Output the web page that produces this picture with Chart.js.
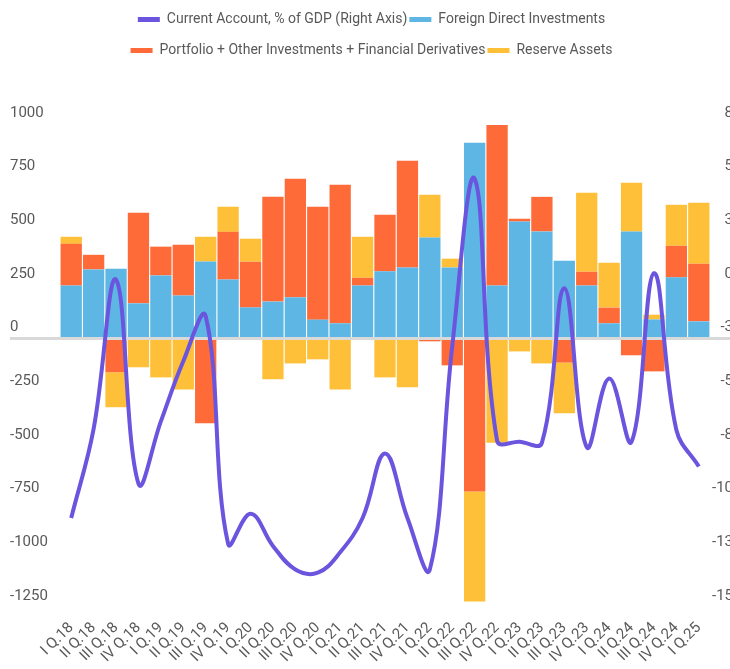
<!DOCTYPE html>
<html>
<head>
<meta charset="utf-8">
<script src="https://cdn.jsdelivr.net/npm/chart.js@4.4.1/dist/chart.umd.min.js"></script>
<style>
  html, body { margin: 0; padding: 0; background: #fff; overflow: hidden; }
  #wrap { width: 745px; height: 669px; }
</style>
</head>
<body>
<div id="wrap"><canvas id="chart" width="745" height="669"></canvas></div>
<script>
// quarters on the x axis
var quarters = [
  'I Q.18', 'II Q.18', 'III Q.18', 'IV Q.18',
  'I Q.19', 'II Q.19', 'III Q.19', 'IV Q.19',
  'I Q.20', 'II Q.20', 'III Q.20', 'IV Q.20',
  'I Q.21', 'II Q.21', 'III Q.21', 'IV Q.21',
  'I Q.22', 'II Q.22', 'III Q.22', 'IV Q.22',
  'I Q.23', 'II Q.23', 'III Q.23', 'IV Q.23',
  'I Q.24', 'II Q.24', 'III Q.24', 'IV Q.24',
  'I Q.25'
];

// bars, left axis
var fdi = [243, 318, 321, 160, 290, 197, 355, 271, 141, 168, 188, 84, 67, 243, 309,
           327, 467, 327, 908, 243, 541, 495, 358, 243, 67, 495, 85, 281, 76];
var portfolio = [194, 68, -161, 422, 134, 236, -399, 222, 213, 488, 552, 526, 645, 36, 264,
                 497, -17, -129, -717, 748, 13, 161, -116, 64, 73, -82, -157, 147, 268];
var reserves = [33, 0, -163, -138, -185, -241, 115, 117, 107, -194, -120, -101, -241, 191, -185,
                -231, 199, 41, -512, -489, -64, -120, -236, 368, 209, 227, 22, 191, 284];

// line, right axis (% of GDP)
var currentAccount = [-10.9, -6.75, 0.2, -9.3, -6.4, -3.6, -1.5, -12.1, -10.7, -12.2, -13.3, -13.45, -12.5, -10.9, -7.9,
                      -10.9, -13.3, -2.9, 4.9, -7.3, -7.35, -7.4, -0.2, -7.6, -4.4, -7.35, 0.5, -6.8, -8.5];

// axis ranges
var leftMin = -1250, leftMax = 1000, leftStep = 250;
var rightMin = -15, rightMax = 7.5, rightStep = 2.5;

var FONT = "Roboto, 'Noto Sans', sans-serif";
var TEXT = '#595959';
var PURPLE = '#6b55df', BLUE = '#5db6e4', ORANGE = '#ff6a39', YELLOW = '#fdc038';

// grey zero line, drawn over the bars but under the line
var zeroLine = {
  id: 'zeroLine',
  beforeDatasetDraw: function(chart, args) {
    if (args.meta.type !== 'line') return;
    var ys = chart.scales.y;
    var y = Math.round(ys.getPixelForValue(0)) + 0.5;
    var ctx = chart.ctx;
    ctx.save();
    ctx.strokeStyle = '#d9d9d9';
    ctx.lineWidth = 3;
    ctx.beginPath();
    ctx.moveTo(ys.left, y);
    ctx.lineTo(chart.width, y);
    ctx.stroke();
    ctx.restore();
  }
};

// thin legend markers, placed in the legend's own hit boxes
var legendMarks = {
  id: 'legendMarks',
  afterDraw: function(chart) {
    var lg = chart.legend;
    if (!lg || !lg.legendHitBoxes) return;
    var ctx = chart.ctx;
    ctx.save();
    lg.legendItems.forEach(function(it, i) {
      var hb = lg.legendHitBoxes[i];
      ctx.fillStyle = chart.data.datasets[it.datasetIndex].backgroundColor;
      ctx.fillRect(hb.left, Math.round(hb.top + hb.height / 2 - 2.5), 22, 5);
    });
    ctx.restore();
  }
};

new Chart(document.getElementById('chart'), {
  data: {
    labels: quarters,
    datasets: [
      {
        type: 'line',
        label: 'Current Account, % of GDP (Right Axis)',
        data: currentAccount,
        yAxisID: 'y1',
        borderColor: PURPLE,
        backgroundColor: PURPLE,
        borderWidth: 4,
        tension: 0.4,
        pointRadius: 0,
        order: 0
      },
      {
        type: 'bar',
        label: 'Foreign Direct Investments',
        data: fdi,
        yAxisID: 'y',
        backgroundColor: BLUE,
        barPercentage: 0.95,
        categoryPercentage: 1,
        order: 1
      },
      {
        type: 'bar',
        label: 'Portfolio + Other Investments + Financial Derivatives',
        data: portfolio,
        yAxisID: 'y',
        backgroundColor: ORANGE,
        barPercentage: 0.95,
        categoryPercentage: 1,
        order: 1
      },
      {
        type: 'bar',
        label: 'Reserve Assets',
        data: reserves,
        yAxisID: 'y',
        backgroundColor: YELLOW,
        barPercentage: 0.95,
        categoryPercentage: 1,
        order: 1
      }
    ]
  },
  options: {
    responsive: false,
    animation: false,
    devicePixelRatio: 1,
    layout: { padding: { left: 10, right: 12, top: 3, bottom: 0 } },
    plugins: {
      tooltip: { enabled: false },
      legend: {
        position: 'top',
        labels: {
          boxWidth: 22,
          boxHeight: 29,
          padding: 2,
          color: TEXT,
          font: { family: FONT, size: 14 },
          generateLabels: function(chart) {
            return Chart.defaults.plugins.legend.labels.generateLabels(chart).map(function(it) {
              it.fillStyle = 'rgba(0,0,0,0)';
              it.lineWidth = 0;
              return it;
            });
          }
        }
      },
      subtitle: {
        display: true,
        text: '',
        weight: 500,
        font: { size: 10, lineHeight: 1 },
        padding: { top: 0, bottom: 38 }
      }
    },
    scales: {
      x: {
        stacked: true,
        grid: { display: false },
        border: { display: false },
        ticks: {
          autoSkip: false,
          minRotation: 45,
          maxRotation: 45,
          padding: 5,
          color: TEXT,
          font: { family: FONT, size: 15 }
        },
        afterFit: function(s) { s.height = 63; }
      },
      y: {
        position: 'left',
        stacked: true,
        min: leftMin,
        max: leftMax,
        grid: { display: false },
        border: { display: false },
        ticks: {
          stepSize: leftStep,
          crossAlign: 'far',
          labelOffset: -10,
          color: TEXT,
          font: { family: FONT, size: 15 },
          callback: function(v) { return String(v); }
        },
        afterFit: function(s) { s.width = 50; }
      },
      y1: {
        position: 'right',
        min: rightMin,
        max: rightMax,
        grid: { display: false },
        border: { display: false },
        ticks: {
          stepSize: rightStep,
          crossAlign: 'far',
          labelOffset: -10,
          color: TEXT,
          font: { family: FONT, size: 15 },
          callback: function(v) { return v.toFixed(0); }
        },
        afterFit: function(s) { s.width = 23; }
      }
    }
  },
  plugins: [zeroLine, legendMarks]
});
</script>
</body>
</html>
